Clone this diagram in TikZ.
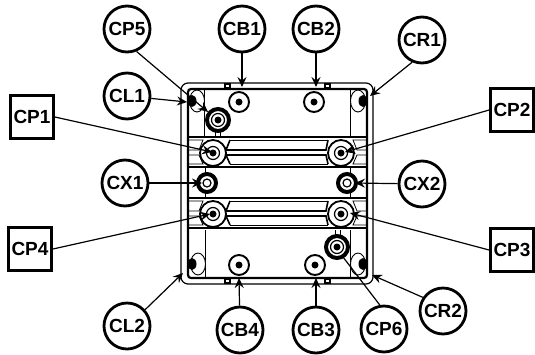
\documentclass[tikz,border=0pt]{standalone}
\usepackage{fontspec}
\setmainfont{Liberation Sans}
\usetikzlibrary{shapes.geometric, arrows.meta}

\begin{document}
\begin{tikzpicture}[
    x = 1pt,
    y = -1pt,
    >= {Stealth[length = 10pt, width = 9pt, inset = 3.5pt]},
    callout/.style = {draw, circle, line width = 2.8pt,
      minimum size = {46pt}, inner sep = 0pt,
      font = \fontsize{19}{19}\selectfont\bfseries},
    partbox/.style = {draw, line width = 2.8pt, minimum size = {43pt},
      inner sep = 0pt, font = \fontsize{19}{19}\selectfont\bfseries},
    pointer/.style = {->, line width = 1.2pt},
    plate/.style = {line width = 1.2pt},
    rail/.style = {line width = 1.6pt},
    thinrail/.style = {line width = 0.8pt},
    post/.style = {draw, circle, fill = white, line width = 1.9pt,
      minimum size = {20pt}, inner sep = 0pt},
    boss/.style = {draw, circle, fill = white, line width = 1.8pt,
      minimum size = {26pt}, inner sep = 0pt},
    ring/.style = {draw, circle, fill = white, line width = 4pt,
      minimum size = {18pt}, inner sep = 0pt},
    heavy/.style = {draw, circle, fill = white, line width = 4pt,
      minimum size = {22pt}, inner sep = 0pt},
    hub/.style = {circle, fill = black, minimum size = {7pt}, inner sep = 0pt},
    inner/.style = {draw, circle, line width = 1.2pt, minimum size = {13pt},
      inner sep = 0pt},
    pad/.style = {draw, ellipse, fill = white, line width = 0.9pt,
      minimum width = {15pt}, minimum height = {22pt}, inner sep = 0pt},
    ]

    \useasboundingbox (0, 0) rectangle (535, 354);

    % plate outline
    \draw [plate, rounded corners = 7pt] (181, 83) rectangle (373, 284);
    \draw [line width = 2.2pt, rounded corners = 3pt]
    (188, 89) rectangle (367, 278);
    \draw [plate] (225, 84) rectangle (230, 88);
    \draw [plate] (325, 84) rectangle (330, 88);
    \draw [plate] (225, 279) rectangle (230, 283);
    \draw [plate] (325, 279) rectangle (330, 283);
    \draw [thinrail] (204, 89) -- (204, 137);
    \draw [thinrail] (350, 89) -- (350, 137);
    \draw [thinrail] (205, 230) -- (205, 278);
    \draw [thinrail] (350, 230) -- (350, 278);
    \draw [thinrail] (205, 167) -- (205, 198);
    \draw [thinrail] (350, 167) -- (350, 198);

    % rails
    \foreach \y in {137, 198} {
      \draw [rail] (188, \y) -- (367, \y);
      \draw [rail] (188, \y + 30) -- (367, \y + 30);
      \draw [thinrail] (188, \y + 3) -- (203, \y + 3) -- (199, \y + 13)
      -- (188, \y + 13);
      \draw [thinrail] (188, \y + 27) -- (203, \y + 27) -- (199, \y + 18)
      -- (188, \y + 18);
      \draw [thinrail] (367, \y + 3) -- (353, \y + 3) -- (357, \y + 13)
      -- (367, \y + 13);
      \draw [thinrail] (367, \y + 27) -- (353, \y + 27) -- (357, \y + 18)
      -- (367, \y + 18);
      \draw [thinrail] (230, \y + 3) -- (328, \y + 3);
      \draw [thinrail] (230, \y + 27) -- (328, \y + 27);
      \draw [rail] (230, \y + 3) -- (226, \y + 13) -- (326, \y + 13)
      -- (328, \y + 3);
      \draw [rail] (230, \y + 27) -- (226, \y + 18) -- (326, \y + 18)
      -- (328, \y + 27);
    }
    \draw [thinrail] (215, 130) -- (215, 137);
    \draw [thinrail] (220, 130) -- (220, 137);
    \draw [thinrail] (335, 230) -- (335, 237);
    \draw [thinrail] (340, 230) -- (340, 237);

    % corner pads
    \node at (197, 101) [pad, name = pad_tl] {};
    \node at (358, 101) [pad, name = pad_tr] {};
    \node at (198, 264) [pad, name = pad_bl] {};
    \node at (358, 264) [pad, name = pad_br] {};
    \fill (192, 101) ellipse (4.5pt and 6pt);
    \fill (363, 101) ellipse (4.5pt and 6pt);
    \fill (192, 264) ellipse (4.5pt and 6pt);
    \fill (363, 264) ellipse (4.5pt and 6pt);

    % fixing points
    \node at (239, 102) [post, name = S_B1] {};
    \node at (314, 102) [post, name = S_B2] {};
    \node at (239, 265) [post, name = S_B4] {};
    \node at (315, 265) [post, name = S_B3] {};

    \node at (213, 153) [boss, name = S_P1] {};
    \node at (341, 153) [boss, name = S_P2] {};
    \node at (213, 214) [boss, name = S_P4] {};
    \node at (341, 214) [boss, name = S_P3] {};

    \node at (207, 183) [ring, name = S_X1] {};
    \node at (347, 183) [ring, name = S_X2] {};
    \node at (207, 183) [inner, minimum size = {8pt}, name = S_X1_inner] {};
    \node at (347, 183) [inner, minimum size = {8pt}, name = S_X2_inner] {};

    \node at (218, 120) [heavy, name = S_P5] {};
    \node at (337, 247) [heavy, name = S_P6] {};

    \foreach \s in {S_P1, S_P2, S_P3, S_P4, S_P5, S_P6} {
      \node at (\s) [inner, name = \s_inner] {};
    }
    \foreach \s in {S_B1, S_B2, S_B3, S_B4, S_P1, S_P2, S_P3, S_P4, S_P5, S_P6} {
      \node at (\s) [hub, name = \s_hub] {};
    }

    % callouts
    \node at (127, 29) [callout, name = CP5] {CP5};
    \node at (242, 29) [callout, name = CB1] {CB1};
    \node at (316, 29) [callout, name = CB2] {CB2};
    \node at (422, 40) [callout, name = CR1] {CR1};
    \node at (127, 96) [callout, name = CL1] {CL1};
    \node at (125, 183) [callout, name = CX1] {CX1};
    \node at (422, 184) [callout, name = CX2] {CX2};
    \node at (127, 326) [callout, name = CL2] {CL2};
    \node at (240, 330) [callout, name = CB4] {CB4};
    \node at (316, 330) [callout, name = CB3] {CB3};
    \node at (384, 329) [callout, name = CP6] {CP6};
    \node at (443, 311) [callout, name = CR2] {CR2};

    \node at (32, 117) [partbox, name = CP1] {CP1};
    \node at (512, 110) [partbox, name = CP2] {CP2};
    \node at (30, 249) [partbox, name = CP4] {CP4};
    \node at (512, 250) [partbox, name = CP3] {CP3};

    % arrow ends
    \coordinate (E_P5) at (208, 112);
    \coordinate (E_L1) at (187, 102);
    \coordinate (E_B1) at (242, 87);
    \coordinate (E_B2) at (316, 87);
    \coordinate (E_R1) at (370, 96);
    \coordinate (E_P1) at (212, 152);
    \coordinate (E_P2) at (345, 152);
    \coordinate (E_X1) at (202, 183);
    \coordinate (E_X2) at (355, 183);
    \coordinate (E_P4) at (210, 214);
    \coordinate (E_P3) at (350, 213);
    \coordinate (E_L2) at (183, 273);
    \coordinate (E_B4) at (239, 278);
    \coordinate (E_B3) at (316, 278);
    \coordinate (E_P6) at (343, 257);
    \coordinate (E_R2) at (372, 275);

    \draw [pointer] (CP5.293) to (E_P5);
    \draw [pointer] (CL1) to (E_L1);
    \draw [pointer] (CB1) to (E_B1);
    \draw [pointer] (CB2) to (E_B2);
    \draw [pointer] (CR1.246) to (E_R1);
    \draw [pointer] (CP1.east) to (E_P1);
    \draw [pointer] (CP2.west) to (E_P2);
    \draw [pointer] (CX1) to (E_X1);
    \draw [pointer] (CX2) to (E_X2);
    \draw [pointer] (CP4.east) to (E_P4);
    \draw [pointer] (CP3.west) to (E_P3);
    \draw [pointer] (CL2.42) to (E_L2);
    \draw [pointer] (CB4) to (E_B4);
    \draw [pointer] (CB3) to (E_B3);
    \draw [line width = 1.2pt] (CP6.100) to (E_P6);
    \draw [pointer] (CR2.146) to (E_R2);

  \end{tikzpicture}
\end{document}
